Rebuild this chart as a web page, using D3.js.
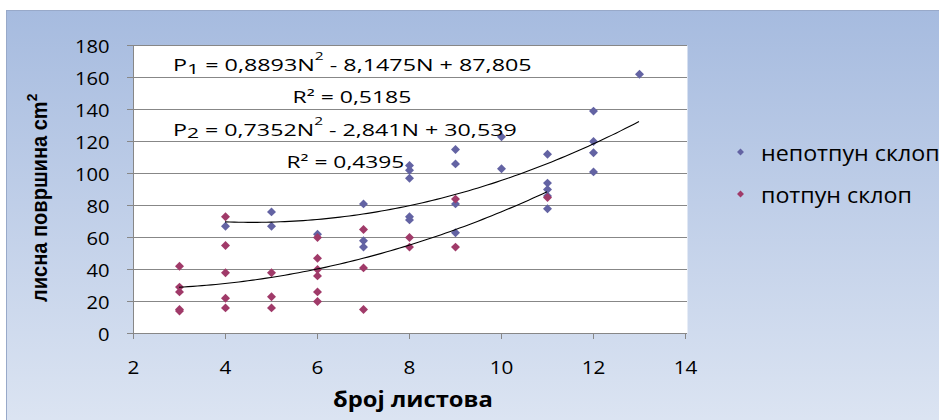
<!doctype html>
<html lang="sr">
<head>
    <meta charset="UTF-8">
    <title>лисна површина</title>
    <style>
        body { margin: 0; background: #fff; }
        #chart text { font-family: "Open Sans", sans-serif; fill: #000; }
        #chart .axis path, #chart .axis line { stroke: #878787; }
    </style>
</head>
<body>
<svg id="chart" width="939" height="420"></svg>

<script src="https://cdn.jsdelivr.net/npm/d3@7"></script>
<script>
    // непотпун склоп (blue)
    var nepotpunX = [4, 5, 5, 6, 7, 7, 7, 8, 8, 8, 8, 8, 9, 9, 9, 9, 10, 10, 11, 11, 11, 11, 11, 12, 12, 12, 12, 13]
    var nepotpunY = [67, 76, 67, 62, 81, 58, 54, 105, 102, 97, 73, 71, 115, 106, 81, 63, 123, 103, 112, 94, 90, 86, 78, 139, 120, 113, 101, 162]
    // потпун склоп (red)
    var potpunX = [3, 3, 3, 3, 3, 4, 4, 4, 4, 4, 5, 5, 5, 6, 6, 6, 6, 6, 6, 7, 7, 7, 8, 8, 9, 9, 11]
    var potpunY = [42, 29, 26, 15, 14, 73, 55, 38, 22, 16, 38, 23, 16, 60, 47, 40, 36, 26, 20, 65, 41, 15, 60, 54, 84, 54, 85]

    var seriesNames = ['непотпун склоп', 'потпун склоп']

    // trend line coefficients (a, b, c) as printed on the chart, and their N range
    var trend1Coef = [0.8893, -8.1475, 87.805], trend1Range = [4, 13]
    var trend2Coef = [0.7352, -2.841, 30.539], trend2Range = [3, 11]

    var eq1Parts = ['P', '1', ' = 0,8893N', '2', ' - 8,1475N + 87,805']
    var eq2Parts = ['P', '2', ' = 0,7352N', '2', ' - 2,841N + 30,539']
    var r2Labels = ['R² = 0,5185', 'R² = 0,4395']

    var xTicks = [2, 4, 6, 8, 10, 12, 14]
    var yTicks = [0, 20, 40, 60, 80, 100, 120, 140, 160, 180]

    var xTitle = 'број листова'
    var yTitle = 'лисна површина cm'

    var blue = '#6363a3', red = '#a03a69'

    var svg = d3.select('#chart')

    // stretch a text horizontally around its anchor x so it spans `width`
    function fitWidth(t, x0, width) {
        var w = t.node().getBBox().width
        var s = width / w
        t.attr('transform', 'translate(' + x0 + ',0) scale(' + s + ',1) translate(' + (-x0) + ',0)')
        return s
    }

    var grad = svg.append('defs').append('linearGradient')
        .attr('id', 'bg').attr('x1', 0).attr('y1', 0).attr('x2', 0).attr('y2', 1)
    grad.append('stop').attr('offset', '0%').attr('stop-color', '#a6bbdf')
    grad.append('stop').attr('offset', '100%').attr('stop-color', '#dee6f3')

    svg.append('rect')
        .attr('x', 6.5).attr('y', 10.5).attr('width', 960).attr('height', 430)
        .attr('fill', 'url(#bg)').attr('stroke', '#98a9c9')

    var xScale = d3.scaleLinear().domain([2, 14]).range([133, 685])
    var yScale = d3.scaleLinear().domain([0, 180]).range([333, 45])

    // plot area
    svg.append('rect')
        .attr('x', xScale(2) + 0.5).attr('y', yScale(180) + 0.5)
        .attr('width', xScale(14) - xScale(2) + 2).attr('height', yScale(0) - yScale(180))
        .attr('fill', '#fff')

    svg.append('g').selectAll('line')
        .data(yTicks)
        .enter().append('line')
        .attr('x1', xScale(2)).attr('x2', xScale(14) + 2)
        .attr('y1', function(d) { return yScale(d) + 0.5 })
        .attr('y2', function(d) { return yScale(d) + 0.5 })
        .attr('stroke', '#878787')

    var xAxis = d3.axisBottom(xScale).tickValues(xTicks).tickSize(6).tickSizeOuter(0).tickPadding(22.5)
    var gx = svg.append('g').attr('class', 'axis')
        .attr('transform', 'translate(0,' + yScale(0) + ')')
        .call(xAxis)
    gx.selectAll('text').attr('font-size', 18).attr('transform', 'scale(1.15,1)')
        .attr('x', function(d) { return 0 })

    var yAxis = d3.axisLeft(yScale).tickValues(yTicks).tickSize(6).tickSizeOuter(0).tickPadding(17.5)
    var gy = svg.append('g').attr('class', 'axis')
        .attr('transform', 'translate(' + xScale(2) + ',0)')
        .call(yAxis)
    gy.selectAll('text').attr('font-size', 18).attr('dy', '0.44em')
        .attr('transform', 'translate(-24,0) scale(1.12,1) translate(24,0)')
    svg.selectAll('.axis text').style('font-family', '"Open Sans", sans-serif')

    // points
    var diamond = d3.symbol().type(d3.symbolSquare).size(40)

    svg.append('g').selectAll('path')
        .data(d3.range(nepotpunX.length))
        .enter().append('path')
        .attr('d', diamond)
        .attr('transform', function(i) {
            return 'translate(' + (xScale(nepotpunX[i]) + 0.5) + ',' + (yScale(nepotpunY[i]) + 0.5) + ') rotate(45)'
        })
        .attr('fill', blue)

    svg.append('g').selectAll('path')
        .data(d3.range(potpunX.length))
        .enter().append('path')
        .attr('d', diamond)
        .attr('transform', function(i) {
            return 'translate(' + (xScale(potpunX[i]) + 0.5) + ',' + (yScale(potpunY[i]) + 0.5) + ') rotate(45)'
        })
        .attr('fill', red)

    // trend lines
    var line = d3.line()
        .x(function(d) { return xScale(d[0]) })
        .y(function(d) { return yScale(d[1]) })

    function trend(coef, range) {
        return d3.range(range[0], range[1] + 0.001, 0.1).map(function(n) {
            return [n, coef[0] * n * n + coef[1] * n + coef[2]]
        })
    }

    svg.append('path').attr('d', line(trend(trend1Coef, trend1Range)))
        .attr('fill', 'none').attr('stroke', '#000').attr('stroke-width', 1.1)
    svg.append('path').attr('d', line(trend(trend2Coef, trend2Range)))
        .attr('fill', 'none').attr('stroke', '#000').attr('stroke-width', 1.1)

    // equations
    function addEq(parts, x, y, width) {
        var t = svg.append('text').attr('x', x).attr('y', y).attr('font-size', 16.5)
        t.append('tspan').text(parts[0])
        t.append('tspan').attr('dy', 2.5).attr('font-size', 15).text(parts[1])
        t.append('tspan').attr('dy', -2.5).text(parts[2])
        t.append('tspan').attr('dy', -11).attr('font-size', 11).text(parts[3])
        t.append('tspan').attr('dy', 11).text(parts[4])
        fitWidth(t, x, width)
    }
    addEq(eq1Parts, 173, 71.5, 359)
    addEq(eq2Parts, 173, 136, 344)

    var r1 = svg.append('text').attr('x', 292.5).attr('y', 103.5).attr('font-size', 16.5).text(r2Labels[0])
    fitWidth(r1, 292.5, 119)
    var r2 = svg.append('text').attr('x', 286.5).attr('y', 168.5).attr('font-size', 16.5).text(r2Labels[1])
    fitWidth(r2, 286.5, 118)

    // legend
    var legendColors = [blue, red]
    var legendY = [152, 194]
    var legendScale = 1
    seriesNames.forEach(function(name, i) {
        svg.append('path')
            .attr('d', d3.symbol().type(d3.symbolSquare).size(24))
            .attr('transform', 'translate(740.5,' + legendY[i] + ') rotate(45)')
            .attr('fill', legendColors[i])
    })
    var lt2 = svg.append('text').attr('x', 761).attr('y', legendY[1] + 9.5)
        .attr('font-size', 21.5).text(seriesNames[1])
    legendScale = fitWidth(lt2, 761, 151)
    svg.append('text').attr('x', 761).attr('y', legendY[0] + 9.5)
        .attr('font-size', 21.5).text(seriesNames[0])
        .attr('transform', 'translate(761,0) scale(' + legendScale + ',1) translate(-761,0)')

    // axis titles
    var xt = svg.append('text').attr('x', 333).attr('y', 407)
        .attr('font-size', 21).attr('font-weight', 'bold').text(xTitle)
    fitWidth(xt, 333, 160)

    var yt = svg.append('text')
        .attr('font-family', '"Liberation Sans", Arial, sans-serif')
        .attr('font-size', 19).attr('font-weight', 'bold')
    yt.append('tspan').text(yTitle)
    yt.append('tspan').attr('dy', -9).attr('font-size', 13).text('2')
    var yw = yt.node().getBBox().width
    yt.attr('transform', 'translate(47,302) rotate(-90) scale(' + (222 / yw) + ',1.12)')
        .style('font-family', '"Liberation Sans", Arial, sans-serif')
</script>
</body>
</html>
